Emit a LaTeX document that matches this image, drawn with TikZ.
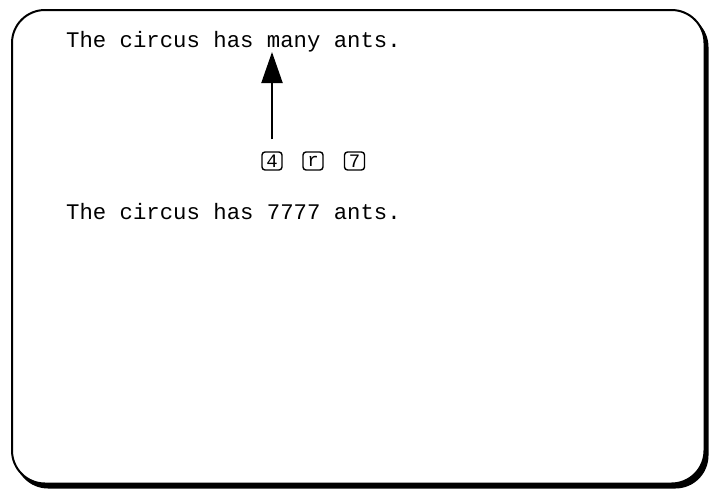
\documentclass[tikz,border=0pt]{standalone}
\usepackage{fontspec}
\setmonofont{Liberation Mono}
\usetikzlibrary{arrows.meta}
\begin{document}
\begin{tikzpicture}[x=1pt,y=-1pt,
  screentext/.style={anchor=base west,inner sep=0pt,font=\fontsize{22.3}{24}\selectfont\ttfamily},
  keycap/.style={draw,line width=1.4pt,rounded corners=3pt,minimum width=20pt,minimum height=18pt,inner sep=0pt,font=\fontsize{19}{20}\selectfont\ttfamily}]
\useasboundingbox (0,0) rectangle (710,490);
% screen frame with shadow
\fill[black,rounded corners=33pt] (15,14) rectangle (708.5,488.5);
\draw[fill=white,line width=2pt,rounded corners=33pt] (12,10) rectangle (704.5,483.5);
% texts
\node[screentext] (line1) at (66,47) {The circus has many ants.};
\node[screentext] (line2) at (66,219) {The circus has 7777 ants.};
% keys
\node[keycap] (k4) at (272,161) {4};
\node[keycap] (kr) at (313,161) {r};
\node[keycap] (k7) at (354.5,161) {7};
% arrow
\coordinate (tip) at (272,52);
\draw[line width=2pt,shorten <=12pt,-{Triangle[length=31pt,width=21pt]}] (k4.north) -- (tip);
\end{tikzpicture}
\end{document}
